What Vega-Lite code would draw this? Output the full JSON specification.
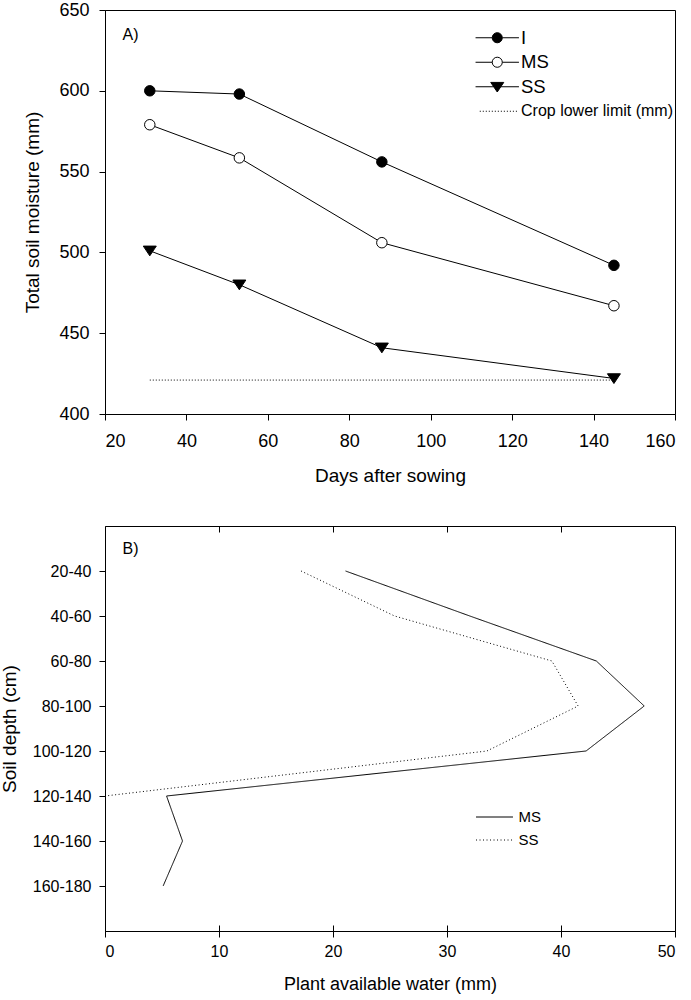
{
  "$schema": "https://vega.github.io/schema/vega-lite/v6.json",
  "padding": {"left": 0, "top": 0, "right": 0, "bottom": 0},
  "config": {
    "font": "Liberation Sans",
    "view": {"stroke": "black", "strokeWidth": 1},
    "axis": {"grid": false, "domainColor": "black", "tickColor": "black", "labelColor": "black", "titleColor": "black", "titleFontWeight": "normal", "tickSize": 6, "domainWidth": 1, "tickWidth": 1},
    "legend": {"labelColor": "black", "padding": 0, "labelLimit": 400}
  },
  "spacing": 112,
  "bounds": "flush",
  "datasets": {
    "moisture": [
      {"series": "I", "das": 31, "moisture": 600},
      {"series": "I", "das": 53, "moisture": 598},
      {"series": "I", "das": 88, "moisture": 556},
      {"series": "I", "das": 145, "moisture": 492},
      {"series": "MS", "das": 31, "moisture": 579},
      {"series": "MS", "das": 53, "moisture": 558.5},
      {"series": "MS", "das": 88, "moisture": 506},
      {"series": "MS", "das": 145, "moisture": 467},
      {"series": "SS", "das": 31, "moisture": 501},
      {"series": "SS", "das": 53, "moisture": 480},
      {"series": "SS", "das": 88, "moisture": 441},
      {"series": "SS", "das": 145, "moisture": 422},
      {"series": "Crop lower limit (mm)", "das": 31, "moisture": 421},
      {"series": "Crop lower limit (mm)", "das": 145, "moisture": 421}
    ],
    "paw": [
      {"series": "MS", "depth": "20-40", "depth_top": 20, "paw": 21.1},
      {"series": "MS", "depth": "40-60", "depth_top": 40, "paw": 32},
      {"series": "MS", "depth": "60-80", "depth_top": 60, "paw": 43.1},
      {"series": "MS", "depth": "80-100", "depth_top": 80, "paw": 47.3},
      {"series": "MS", "depth": "100-120", "depth_top": 100, "paw": 42.2},
      {"series": "MS", "depth": "120-140", "depth_top": 120, "paw": 5.4},
      {"series": "MS", "depth": "140-160", "depth_top": 140, "paw": 6.8},
      {"series": "MS", "depth": "160-180", "depth_top": 160, "paw": 5.1},
      {"series": "SS", "depth": "20-40", "depth_top": 20, "paw": 17.2},
      {"series": "SS", "depth": "40-60", "depth_top": 40, "paw": 25.4},
      {"series": "SS", "depth": "60-80", "depth_top": 60, "paw": 39.2},
      {"series": "SS", "depth": "80-100", "depth_top": 80, "paw": 41.5},
      {"series": "SS", "depth": "100-120", "depth_top": 100, "paw": 33.5},
      {"series": "SS", "depth": "120-140", "depth_top": 120, "paw": 0}
    ]
  },
  "vconcat": [
    {
      "width": 570,
      "height": 404,
      "data": {"name": "moisture"},
      "encoding": {
        "x": {"field": "das", "type": "quantitative", "scale": {"domain": [20, 160], "nice": false}, "axis": {"title": "Days after sowing", "values": [20, 40, 60, 80, 100, 120, 140, 160], "labelFontSize": 18, "titleFontSize": 19, "labelPadding": 12, "titlePadding": 16}},
        "y": {"field": "moisture", "type": "quantitative", "scale": {"domain": [400, 650], "nice": false, "zero": false}, "axis": {"title": "Total soil moisture (mm)", "values": [400, 450, 500, 550, 600, 650], "labelFontSize": 18, "titleFontSize": 19, "labelPadding": 10, "titlePadding": 16}}
      },
      "layer": [
        {
          "transform": [{"filter": "datum.series !== 'Crop lower limit (mm)'"}],
          "mark": {"type": "line", "color": "black", "strokeWidth": 1},
          "encoding": {"detail": {"field": "series", "type": "nominal"}}
        },
        {
          "transform": [{"filter": "datum.series === 'Crop lower limit (mm)'"}],
          "mark": {"type": "line", "color": "black", "strokeWidth": 1, "strokeDash": [1, 2]},
          "encoding": {}
        },
        {
          "transform": [{"filter": "datum.series === 'I'"}],
          "mark": {"type": "point", "shape": "circle", "filled": true, "fill": "black", "stroke": "black", "strokeWidth": 1, "size": 110, "opacity": 1}
        },
        {
          "transform": [{"filter": "datum.series === 'MS'"}],
          "mark": {"type": "point", "shape": "circle", "filled": true, "fill": "white", "stroke": "black", "strokeWidth": 1, "size": 110, "opacity": 1}
        },
        {
          "transform": [{"filter": "datum.series === 'SS'"}],
          "mark": {"type": "point", "shape": "M-1,-0.72L1,-0.72L0,0.78Z", "filled": true, "fill": "black", "stroke": "black", "strokeWidth": 1, "size": 169, "opacity": 1}
        },
        {
          "data": {"values": [{"panel": "A)", "das": 24.3, "moisture": 631.4}]},
          "mark": {"type": "text", "align": "left", "baseline": "alphabetic", "fontSize": 16, "fill": "black"},
          "encoding": {
            "text": {"field": "panel", "type": "nominal"}
          }
        },
        {
          "transform": [{"filter": "false"}],
          "mark": {"type": "point", "strokeWidth": 1, "opacity": 1},
          "encoding": {
            "shape": {
              "field": "series", "type": "nominal",
              "scale": {
                "domain": ["I", "MS", "SS", "Crop lower limit (mm)"],
                "range": [
                  "M-3.1,0H-0.72M0.72,0H3.1M-0.72,0A0.72,0.72,0,1,0,0.72,0A0.72,0.72,0,1,0,-0.72,0Z",
                  "M-3.1,0H-0.72M0.72,0H3.1M-0.72,0A0.72,0.72,0,1,0,0.72,0A0.72,0.72,0,1,0,-0.72,0Z",
                  "M-3.1,0H-0.5M0.5,0H3.1M-0.93,-0.62L0.93,-0.62L0,0.75Z",
                  "M-2.5,-0.07h0.15v0.15h-0.15ZM-2.07,-0.07h0.15v0.15h-0.15ZM-1.64,-0.07h0.15v0.15h-0.15ZM-1.21,-0.07h0.15v0.15h-0.15ZM-0.78,-0.07h0.15v0.15h-0.15ZM-0.35,-0.07h0.15v0.15h-0.15ZM0.08,-0.07h0.15v0.15h-0.15ZM0.51,-0.07h0.15v0.15h-0.15ZM0.94,-0.07h0.15v0.15h-0.15ZM1.37,-0.07h0.15v0.15h-0.15ZM1.8,-0.07h0.15v0.15h-0.15ZM2.23,-0.07h0.15v0.15h-0.15ZM2.66,-0.07h0.15v0.15h-0.15Z"
                ]
              },
              "legend": {
                "orient": "none", "legendX": 383, "legendY": 18.5, "title": null, "symbolSize": 196, "labelOffset": 14.5, "rowPadding": 5.5, "symbolStrokeWidth": 1, "labelLimit": 400,
                "labelFontSize": {"expr": "datum.value === 'Crop lower limit (mm)' ? 16 : 18.5"}
              }
            },
            "fill": {"field": "series", "type": "nominal", "scale": {"domain": ["I", "MS", "SS", "Crop lower limit (mm)"], "range": ["black", "white", "black", "black"]}},
            "stroke": {"field": "series", "type": "nominal", "scale": {"domain": ["I", "MS", "SS", "Crop lower limit (mm)"], "range": ["black", "black", "black", "transparent"]}}
          }
        }
      ]
    },
    {
      "width": 570,
      "height": 405,
      "data": {"name": "paw"},
      "encoding": {
        "y": {"field": "depth_top", "type": "quantitative", "scale": {"domain": [0, 180], "reverse": true, "nice": false, "zero": false}, "axis": {"title": "Soil depth (cm)", "values": [20, 40, 60, 80, 100, 120, 140, 160], "labelExpr": "datum.value + '-' + (datum.value + 20)", "labelFontSize": 16, "titleFontSize": 19, "labelPadding": 8, "titlePadding": 12.5}}
      },
      "layer": [
        {
          "mark": {"type": "line", "color": "black", "strokeWidth": 1},
          "encoding": {
            "x": {"field": "paw", "type": "quantitative", "scale": {"domain": [0, 50], "nice": false}, "axis": {"title": "Plant available water (mm)", "values": [0, 10, 20, 30, 40, 50], "labelFontSize": 16, "titleFontSize": 18, "labelPadding": 6, "titlePadding": 16}},
            "order": {"field": "depth_top", "type": "quantitative"},
            "strokeDash": {
              "field": "series", "type": "nominal",
              "scale": {"domain": ["MS", "SS"], "range": [[1, 0], [1, 2.5]]},
              "legend": {"orient": "none", "legendX": 382, "legendY": 799.5, "title": null, "symbolType": "M-2.64,0H2.64", "symbolSize": 196, "symbolStrokeWidth": 1, "symbolStrokeColor": "black", "labelFontSize": 15, "labelOffset": 16.5, "rowPadding": 7}
            }
          }
        },
        {
          "mark": {"type": "point", "opacity": 0},
          "encoding": {
            "x": {"field": "paw", "type": "quantitative", "scale": {"domain": [0, 50], "nice": false}, "axis": {"orient": "top", "offset": -6, "tickSize": 6, "title": null, "labels": false, "domain": false, "values": [10, 20, 30, 40]}}
          }
        },
        {
          "mark": {"type": "point", "opacity": 0},
          "encoding": {
            "x": {"field": "paw", "type": "quantitative", "scale": {"domain": [0, 50], "nice": false}, "axis": {"orient": "bottom", "offset": -6, "tickSize": 6, "title": null, "labels": false, "domain": false, "values": [10, 20, 30, 40]}}
          }
        },
        {
          "data": {"values": [{"panel": "B)", "paw": 1.54, "depth_top": 12.6}]},
          "mark": {"type": "text", "align": "left", "baseline": "alphabetic", "fontSize": 16, "fill": "black"},
          "encoding": {
            "x": {"field": "paw", "type": "quantitative", "scale": {"domain": [0, 50], "nice": false}, "axis": null},
            "text": {"field": "panel", "type": "nominal"}
          }
        }
      ],
      "resolve": {"scale": {"x": "independent"}, "axis": {"x": "independent"}}
    }
  ]
}
